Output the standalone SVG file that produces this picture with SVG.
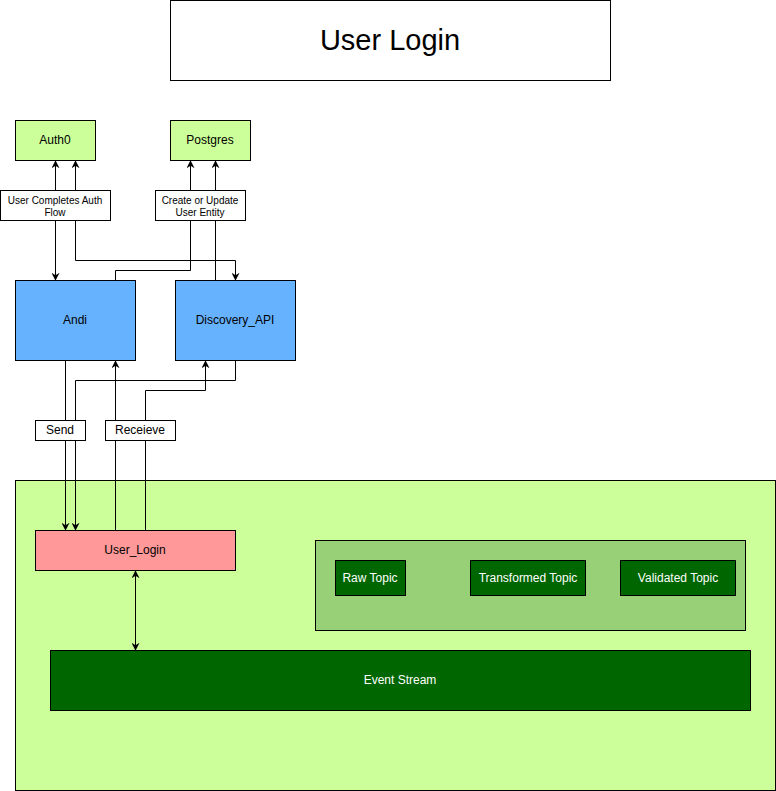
<svg xmlns="http://www.w3.org/2000/svg" width="776" height="791" viewBox="0 0 776 791">
<style>
text{font-family:"Liberation Sans",Arial,Helvetica,sans-serif;text-anchor:middle;dominant-baseline:central;fill:#000}
.b{stroke:#000;stroke-width:1}
.w{fill:#fff}
.white{fill:#fff}
.e{fill:none;stroke:#000;stroke-width:1}
</style>
<defs>
<marker id="a" viewBox="0 0 10 10" refX="9" refY="5" markerWidth="8" markerHeight="8" markerUnits="userSpaceOnUse" orient="auto-start-reverse">
<path d="M0,0 L10,5 L0,10 L3,5 Z" fill="#000"/>
</marker>
</defs>
<rect x="0" y="0" width="776" height="791" fill="#fff"/>
<g id="title"><rect x="170.5" y="0.5" width="440" height="80" class="b w"/><text x="390" y="40" font-size="29">User Login</text></g>
<g id="container"><rect x="15.5" y="480.5" width="760" height="310" class="b" fill="#CCFF99"/></g>
<g id="auth0"><rect x="15.5" y="120.5" width="80" height="40" class="b" fill="#CCFF99"/><text x="55" y="140" font-size="12">Auth0</text></g>
<g id="postgres"><rect x="170.5" y="120.5" width="80" height="40" class="b" fill="#CCFF99"/><text x="210" y="140" font-size="12">Postgres</text></g>
<g id="andi"><rect x="15.5" y="280.5" width="120" height="80" class="b" fill="#66B2FF"/><text x="75" y="320" font-size="12">Andi</text></g>
<g id="discovery"><rect x="175.5" y="280.5" width="120" height="80" class="b" fill="#66B2FF"/><text x="235" y="320" font-size="12">Discovery_API</text></g>
<g id="user_login"><rect x="35.5" y="530.5" width="200" height="40" class="b" fill="#FF9999"/><text x="135" y="550" font-size="12">User_Login</text></g>
<g id="topics"><rect x="315.5" y="540.5" width="430" height="90" class="b" fill="#97D077"/></g>
<g id="raw"><rect x="335.5" y="560.5" width="70" height="35" class="b" fill="#006600"/><text x="370" y="578" font-size="12" class="white">Raw Topic</text></g>
<g id="transformed"><rect x="470.5" y="560.5" width="115" height="35" class="b" fill="#006600"/><text x="528" y="578" font-size="12" class="white">Transformed Topic</text></g>
<g id="validated"><rect x="620.5" y="560.5" width="115" height="35" class="b" fill="#006600"/><text x="678" y="578" font-size="12" class="white">Validated Topic</text></g>
<g id="event_stream"><rect x="50.5" y="650.5" width="700" height="60" class="b" fill="#006600"/><text x="400" y="680" font-size="12" class="white">Event Stream</text></g>
<g id="connectors">
<path class="e" d="M55.5,280 L55.5,161" marker-start="url(#a)" marker-end="url(#a)"/>
<path class="e" d="M235.5,280 L235.5,260.5 L75.5,260.5 L75.5,161" marker-start="url(#a)" marker-end="url(#a)"/>
<path class="e" d="M115.5,280 L115.5,270.5 L190.5,270.5 L190.5,161" marker-end="url(#a)"/>
<path class="e" d="M215.5,280 L215.5,161" marker-end="url(#a)"/>
<path class="e" d="M65.5,361 L65.5,530" marker-end="url(#a)"/>
<path class="e" d="M235.5,361 L235.5,380.5 L75.5,380.5 L75.5,530" marker-end="url(#a)"/>
<path class="e" d="M115.5,530 L115.5,361" marker-end="url(#a)"/>
<path class="e" d="M145.5,530 L145.5,390.5 L205.5,390.5 L205.5,361" marker-end="url(#a)"/>
<path class="e" d="M135.5,571 L135.5,650" marker-start="url(#a)" marker-end="url(#a)"/>
</g>
<g id="label_auth"><rect x="0.5" y="190.5" width="110" height="30" class="b w"/><text x="55" y="200" font-size="10">User Completes Auth</text><text x="55" y="212" font-size="10">Flow</text></g>
<g id="label_pg"><rect x="155.5" y="190.5" width="90" height="30" class="b w"/><text x="200" y="200" font-size="10">Create or Update</text><text x="200" y="212" font-size="10">User Entity</text></g>
<g id="label_send"><rect x="35.5" y="420.5" width="50" height="20" class="b w"/><text x="60" y="430" font-size="12">Send</text></g>
<g id="label_recv"><rect x="105.5" y="420.5" width="70" height="20" class="b w"/><text x="140" y="430" font-size="12">Receieve</text></g>
</svg>
